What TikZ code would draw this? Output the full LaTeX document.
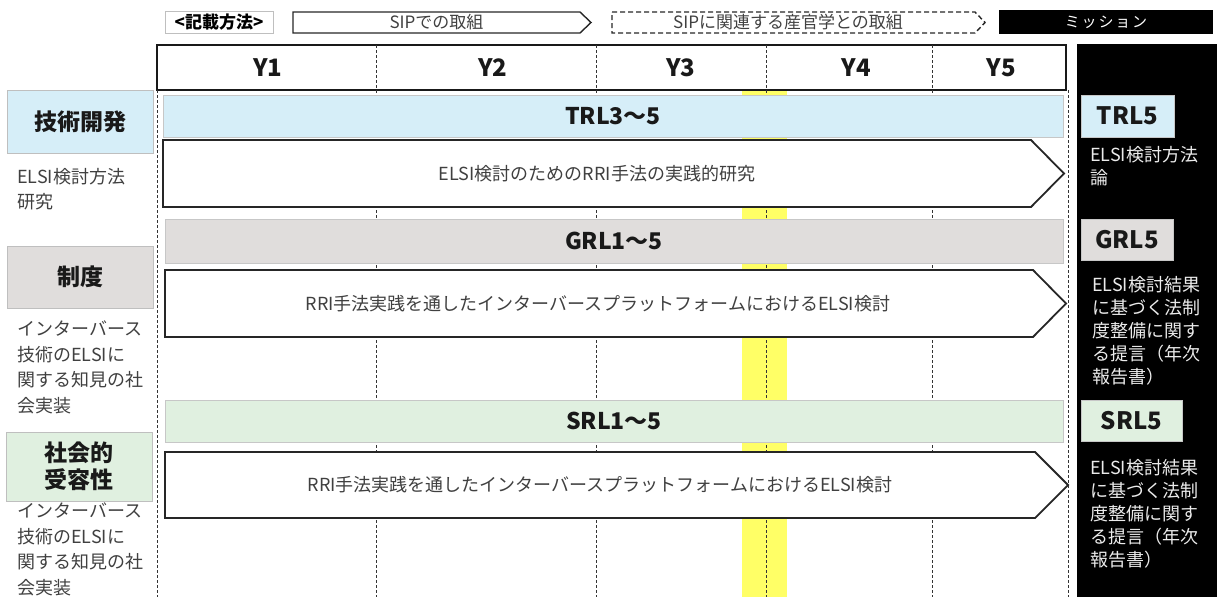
\documentclass[tikz,border=0pt]{standalone}
\usepackage{fontspec}
\setmainfont{Noto Sans CJK JP}
\definecolor{trlblue}{HTML}{D6EEF8}
\definecolor{grlgray}{HTML}{E0DDDC}
\definecolor{srlgreen}{HTML}{E0F0E0}
\definecolor{bandyellow}{HTML}{FFFF66}
\definecolor{txtgray}{HTML}{404040}
\begin{document}
\begin{tikzpicture}[x=1pt,y=1pt,
  headbox/.style={draw=black!25, inner sep=0, align=center, text=black!90,
    font=\fontsize{23}{27}\selectfont\bfseries},
  levelbar/.style={draw=black!22, fill=#1, inner sep=0, minimum width=898, minimum height=42,
    text=black!90, font=\fontsize{23}{27}\selectfont\bfseries},
  goalbox/.style={draw=black!22, inner sep=0, minimum height=41,
    text=black!90, font=\fontsize{24}{28}\selectfont\bfseries},
  yearlabel/.style={text=black!90, font=\fontsize{24}{28}\selectfont\bfseries},
  note/.style={anchor=north west, inner sep=0, align=left, text=txtgray,
    font=\fontsize{18}{25.5}\selectfont},
  goalnote/.style={anchor=north west, inner sep=0, align=left, text=white!92!black,
    font=\fontsize{18}{23}\selectfont},
  flowline/.style={draw=black!85, line width=1.8pt, fill=white, line join=miter},
  flowtext/.style={text=txtgray, font=\fontsize{18}{22}\selectfont},
  legendtext/.style={text=txtgray, font=\fontsize{17}{20}\selectfont},
  yearline/.style={dash pattern=on 3pt off 2pt, line width=0.6pt, draw=black!80}]
\useasboundingbox (0,0) rectangle (1217,-597);

% legend
\node[draw=black!25, inner sep=0, minimum width=108, minimum height=22,
  font=\fontsize{17}{20}\selectfont\bfseries] (howto) at (219,-22) {<記載方法>};
\draw[line width=1.4pt, draw=black!85] (293,-12)--(580,-12)--(591,-22.5)--(580,-33)--(293,-33)--cycle;
\node[legendtext] (sipown) at (436.5,-22.5) {SIPでの取組};
\draw[line width=1.4pt, draw=black!85, dash pattern=on 5pt off 3pt] (612,-12)--(975,-12)--(985,-22.5)--(975,-33)--(612,-33)--cycle;
\node[legendtext] (sipjoint) at (788,-22.5) {SIPに関連する産官学との取組};
\node[fill=black, inner sep=0, minimum width=214, minimum height=24, text=white,
  font=\fontsize{15}{18}\selectfont\addfontfeature{LetterSpace=12}] (mission) at (1106,-22) {ミッション};

% mission column
\fill[black] (1077,-44) rectangle (1217,-597);

% year grid
\fill[bandyellow] (742,-90) rectangle (787,-597);
\draw[line width=1.6pt, draw=black!90] (157,-45) rectangle (1066,-90);
\draw[yearline] (157,-90)--(157,-597);
\draw[yearline] (1068,-90)--(1068,-597);
\draw[yearline] (376,-45)--(376,-597);
\draw[yearline] (596,-45)--(596,-597);
\draw[yearline] (766,-45)--(766,-597);
\draw[yearline] (932,-45)--(932,-597);
\node[yearlabel] (y1) at (268,-67.5) {Y1};
\node[yearlabel] (y2) at (493,-67.5) {Y2};
\node[yearlabel] (y3) at (681,-67.5) {Y3};
\node[yearlabel] (y4) at (856,-67.5) {Y4};
\node[yearlabel] (y5) at (1001,-67.5) {Y5};

% technology
\node[headbox, fill=trlblue, minimum width=146, minimum height=63] (tech) at (80,-121.5) {技術開発};
\node[note] (technote) at (17,-168) {ELSI検討方法\\研究};
\node[levelbar=trlblue, minimum width=900] (trl) at (613,-116) {TRL3〜5};
\draw[flowline] (163,-140)--(1031,-140)--(1064,-173.5)--(1031,-207)--(163,-207)--cycle;
\node[flowtext] (techplan) at (597,-173.5) {ELSI検討のためのRRI手法の実践的研究};
\node[goalbox, fill=trlblue, minimum width=93, minimum height=42] (trlgoal) at (1127.5,-116) {TRL5};
\node[goalnote] (techgoal) at (1090,-146) {ELSI検討方法\\論};

% institution
\node[headbox, fill=grlgray, minimum width=146, minimum height=62] (inst) at (80,-277) {制度};
\node[note] (instnote) at (17,-321) {インターバース\\技術のELSIに\\関する知見の社\\会実装};
\node[levelbar=grlgray, minimum height=44] (grl) at (614,-241) {GRL1〜5};
\draw[flowline] (165,-270)--(1033,-270)--(1066,-303.5)--(1033,-337)--(165,-337)--cycle;
\node[flowtext] (instplan) at (598,-303.5) {RRI手法実践を通したインターバースプラットフォームにおけるELSI検討};
\node[goalbox, fill=grlgray, minimum width=92] (grlgoal) at (1127,-239.5) {GRL5};
\node[goalnote] (instgoal) at (1092,-276) {ELSI検討結果\\に基づく法制\\度整備に関す\\る提言（年次\\報告書）};

% social acceptance
\node[headbox, fill=srlgreen, minimum width=146, minimum height=69] (soc) at (79,-466.5) {社会的\\受容性};
\node[note] (socnote) at (17,-503) {インターバース\\技術のELSIに\\関する知見の社\\会実装};
\node[levelbar=srlgreen] (srl) at (614,-421) {SRL1〜5};
\draw[flowline] (165,-452)--(1035,-452)--(1068,-485)--(1035,-518)--(165,-518)--cycle;
\node[flowtext] (socplan) at (600,-485) {RRI手法実践を通したインターバースプラットフォームにおけるELSI検討};
\node[goalbox, fill=srlgreen, minimum width=101] (srlgoal) at (1131.5,-420.5) {SRL5};
\node[goalnote] (socgoal) at (1090,-459) {ELSI検討結果\\に基づく法制\\度整備に関す\\る提言（年次\\報告書）};
\end{tikzpicture}
\end{document}
